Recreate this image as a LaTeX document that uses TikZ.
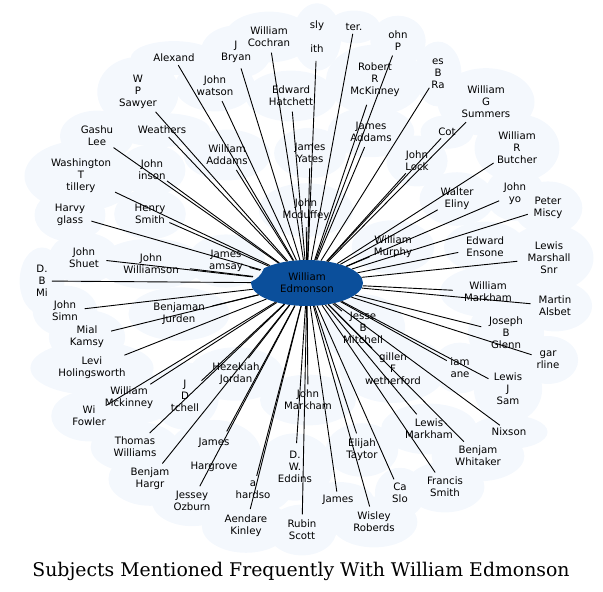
\documentclass[tikz,border=0pt]{standalone}
\usepackage{fontspec}
\usepackage{graphicx}
\usepackage{tikz}
\usetikzlibrary{shapes.geometric}
\newfontfamily\namefont{DejaVu Sans}
\newfontfamily\titlefont{DejaVu Serif}
\definecolor{cloudblue}{HTML}{F4F8FD}
\definecolor{hubblue}{HTML}{0B4F9B}
\pgfdeclarelayer{clouds}
\pgfdeclarelayer{links}
\pgfsetlayers{clouds,links,main}
\tikzset{
    name-node/.style = {ellipse, inner sep=1pt, align=center, font={\namefont\fontsize{10.2}{12}\selectfont}},
    name-cloud/.style = {name-node, fill=cloudblue, text=cloudblue, inner xsep=10pt, inner ysep=8pt},
    hub-node/.style = {ellipse, fill=hubblue, text=black, align=center, inner sep=0pt, minimum width=112pt, minimum height=46pt, font={\namefont\fontsize{10.2}{12}\selectfont}},
    link/.style = {black, line width=0.9pt},
}

\begin{document}
\begin{tikzpicture}[x=1pt,y=-1pt]
\useasboundingbox (0,0) rectangle (603,592);

\begin{pgfonlayer}{links}
\node[hub-node] (hub) at (307,283) {William\\Edmonson};
\fill[cloudblue] (243,261) circle (22pt);
\end{pgfonlayer}

\foreach \n/\x/\y/\t in {
    cochran/269/37/{William\\Cochran},
    bryan/236/52/{J\\Bryan},
    smith/317/37/{sly\\[12pt]ith},
    ter/354/27/{ter.},
    johnp/398/41/{ohn\\P},
    ray/438/74/{es\\B\\Ra},
    mckinney/375/80/{Robert\\R\\McKinney},
    summers/486/102/{William\\G\\Summers},
    hatchett/291/96/{Edward\\Hatchett},
    watson/215/86/{John\\watson},
    alexand/174/58/{Alexand},
    sawyer/138/92/{W\\P\\Sawyer},
    weathers/162/130/{Weathers},
    gashu/97/136/{Gashu\\Lee},
    tillery/81/176/{Washington\\T\\tillery},
    inson/152/170/{John\\inson},
    waddams/227/155/{William\\Addams},
    yates/310/153/{James\\Yates},
    jaddams/371/132/{James\\Addams},
    lock/417/161/{John\\Lock},
    cot/447/132/{Cot},
    butcher/517/148/{William\\R\\Butcher},
    johnyo/515/194/{John\\yo},
    miscy/548/208/{Peter\\Miscy},
    eliny/457/199/{Walter\\Eliny},
    ensone/485/247/{Edward\\Ensone},
    marshall/549/258/{Lewis\\Marshall\\Snr},
    murphy/393/247/{William\\Murphy},
    mcduffey/306/210/{John\\Mcduffey},
    hsmith/150/214/{Henry\\Smith},
    glass/70/215/{Harvy\\glass},
    shuet/84/258/{John\\Shuet},
    williamson/151/264/{John\\Williamson},
    ramsay/226/261/{James\\amsay},
    dbm/42/281/{D.\\B\\Mi},
    simn/65/311/{John\\Simn},
    kamsy/87/337/{Mial\\Kamsy},
    holings/92/368/{Levi\\Holingsworth},
    jurden/179/314/{Benjaman\\Jurden},
    wmckinney/129/398/{William\\Mckinney},
    fowler/89/416/{Wi\\Fowler},
    tchell/185/396/{J\\D\\tchell},
    jordan/236/374/{Hezekiah\\Jordan},
    twilliams/135/447/{Thomas\\Williams},
    hargr/150/479/{Benjam\\Hargr},
    hargrove/214/455/{James\\[12pt]Hargrove},
    ozburn/192/501/{Jessey\\Ozburn},
    hardso/253/490/{a\\hardso},
    kinley/246/526/{Aendare\\Kinley},
    scott/302/530/{Rubin\\Scott},
    jamesso/338/500/{James},
    roberds/374/522/{Wisley\\Roberds},
    eddins/295/467/{D.\\W.\\Eddins},
    jmarkham/308/400/{John\\Markham},
    taytor/362/450/{Elijah\\Taytor},
    slo/400/493/{Ca\\Slo},
    fsmith/445/487/{Francis\\Smith},
    lmarkham/429/429/{Lewis\\Markham},
    whitaker/478/456/{Benjam\\Whitaker},
    nixson/509/432/{Nixson},
    sam/508/389/{Lewis\\J\\Sam},
    lane/460/368/{iam\\ane},
    darline/548/360/{gar\\rline},
    alsbet/555/306/{Martin\\Alsbet},
    wmarkham/488/292/{William\\Markham},
    glenn/506/333/{Joseph\\B\\Glenn},
    mitchell/363/328/{Jesse\\B\\Mitchell},
    wetherford/393/369/{gillen\\F\\wetherford}%
}{
    \begin{pgfonlayer}{clouds}
    \node[name-cloud] at (\x,\y) {\t};
    \end{pgfonlayer}
    \node[name-node] (\n) at (\x,\y) {\t};
    \begin{pgfonlayer}{links}
    \draw[link] (hub) -- (\n);
    \end{pgfonlayer}
}

\node[font=\titlefont] (title) at (301,571) {\resizebox{537pt}{!}{Subjects Mentioned Frequently With William Edmonson}};
\end{tikzpicture}
\end{document}
